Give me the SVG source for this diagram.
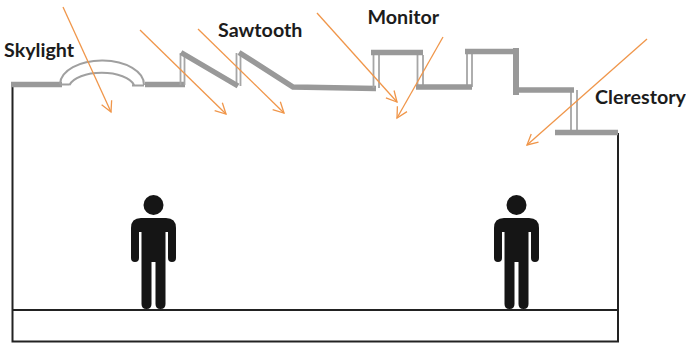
<svg xmlns="http://www.w3.org/2000/svg" width="686" height="344" viewBox="0 0 686 344">
<style>
.wall{fill:none;stroke:#222;stroke-width:2}
.roof{fill:none;stroke:#999;stroke-width:5.500}
.win{fill:none;stroke:#a6a6a6;stroke-width:1.800}
.ray{fill:none;stroke:#f0964a;stroke-width:1.300;marker-end:url(#a)}
.lbl{font-family:"Lato","Liberation Sans",sans-serif;font-size:19.700px;font-weight:700;fill:#1c1c1c}
.p{fill:#151515}
</style>
<defs>
<marker id="a" markerUnits="userSpaceOnUse" markerWidth="14" markerHeight="14" refX="11.500" refY="6" orient="auto" overflow="visible"><path d="M1 0.500L11.500 6L1 11.500" fill="none" stroke="#f0964a" stroke-width="1.300"/></marker>
<g id="person"><circle cx="153.500" cy="205" r="10"/><path d="M141 218H166Q176 218 176 228V258Q176 262 172 262Q168 262 168 258V232H165.500V304Q165.500 309 160.500 309Q155.500 309 155.500 304V262H151.500V304Q151.500 309 146.500 309Q141.500 309 141.500 304V232H139V258Q139 262 135 262Q131 262 131 258V228Q131 218 141 218Z"/></g>
</defs>
<g id="building"><path class="wall" d="M12.500 86V341.500H618V133M12.500 310H618"/></g>
<g id="skylight">
<path class="roof" d="M11 84.500H62M145 84.500H185"/>
<path d="M60 84A42 24 0 0 1 144 85M69.500 85A33 15.500 0 0 1 134 85M60 84.500H69.500M132 85.500H144" fill="none" stroke="#a0a0a0" stroke-width="2"/>
</g>
<g id="sawtooth">
<path class="win" d="M180.500 85V53M184.500 85V53M236.500 86V53M240.500 86V53"/>
<path class="roof" d="M181 52.500L238 86M239 52.500L293 87L376 88.500"/>
</g>
<g id="monitor">
<path class="win" d="M373.500 88V55M379 88V55M417.500 55V87M423 55V87M467 54V87M472 54V87"/>
<path class="roof" d="M371 52.500H423M416 87H472M465 51.500H515"/>
<path d="M516 48V95" fill="none" stroke="#999" stroke-width="6"/>
</g>
<g id="clerestory">
<path class="win" d="M571 90V132M577 90V132"/>
<path class="roof" d="M516 90H574M555 132.500H618"/>
</g>
<g id="people" class="p"><use href="#person"/><use href="#person" x="363"/></g>
<g id="connectors">
<path class="ray" d="M63 7L111 112"/>
<path class="ray" d="M140 30L226 114"/>
<path class="ray" d="M198 29L284 113"/>
<path class="ray" d="M317 13L397 102"/>
<path class="ray" d="M443 37L397 118"/>
<path class="ray" d="M647 39L527 145"/>
</g>
<g id="labels">
<text class="lbl" x="4" y="57">Skylight</text>
<text class="lbl" x="218" y="37">Sawtooth</text>
<text class="lbl" x="367.500" y="24">Monitor</text>
<text class="lbl" x="595" y="104">Clerestory</text>
</g>
</svg>
